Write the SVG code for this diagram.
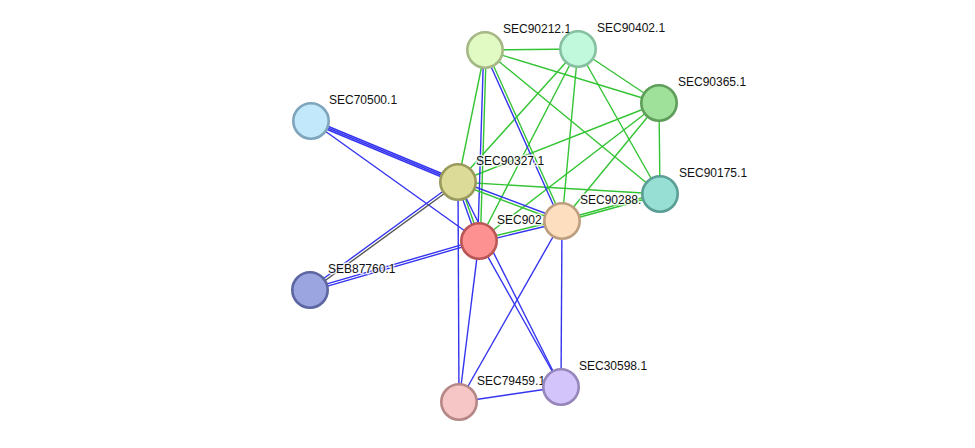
<svg xmlns="http://www.w3.org/2000/svg" width="975" height="448" viewBox="0 0 975 448">
<style>
.g{stroke:#33c433;stroke-width:1.4;fill:none}
.b{stroke:#3434f0;stroke-width:1.4;fill:none}
.k{stroke:#555555;stroke-width:1.4;fill:none}
.n{stroke-width:2.6}
.t{font-family:"Liberation Sans",Arial,sans-serif;font-size:12px;fill:#111;stroke:#ffffff;stroke-width:3;stroke-opacity:0.75;paint-order:stroke;stroke-linejoin:round}
</style>
<rect width="975" height="448" fill="#ffffff"/>
<g id="connectors">
<line class="g" x1="485" y1="50" x2="578" y2="49"/>
<line class="g" x1="485" y1="50" x2="659" y2="103"/>
<line class="g" x1="485" y1="50" x2="660" y2="194"/>
<line class="g" x1="485" y1="50" x2="458" y2="182"/>
<line class="g" x1="578" y1="49" x2="659" y2="103"/>
<line class="g" x1="578" y1="49" x2="660" y2="194"/>
<line class="g" x1="578" y1="49" x2="562" y2="221"/>
<line class="g" x1="578" y1="49" x2="458" y2="182"/>
<line class="g" x1="578" y1="49" x2="479" y2="241"/>
<line class="g" x1="659" y1="103" x2="660" y2="194"/>
<line class="g" x1="659" y1="103" x2="458" y2="182"/>
<line class="g" x1="659" y1="103" x2="479" y2="241"/>
<line class="g" x1="659" y1="103" x2="562" y2="221"/>
<line class="g" x1="458" y1="182" x2="660" y2="194"/>
<line class="g" x1="562.27" y1="221.97" x2="660.27" y2="194.97"/>
<line class="g" x1="561.73" y1="220.03" x2="659.73" y2="193.03"/>
<line class="b" x1="483.7" y1="50" x2="477.7" y2="241"/>
<line class="g" x1="486.3" y1="50" x2="480.3" y2="241"/>
<line class="b" x1="483.81" y1="50.53" x2="560.81" y2="221.53"/>
<line class="g" x1="486.19" y1="49.47" x2="563.19" y2="220.47"/>
<line class="b" x1="456.78" y1="182.44" x2="477.78" y2="241.44"/>
<line class="g" x1="459.22" y1="181.56" x2="480.22" y2="240.56"/>
<line class="b" x1="458.46" y1="180.78" x2="562.46" y2="219.78"/>
<line class="g" x1="457.54" y1="183.22" x2="561.54" y2="222.22"/>
<line class="g" x1="478.7" y1="239.74" x2="561.7" y2="219.74"/>
<line class="b" x1="479.3" y1="242.26" x2="562.3" y2="222.26"/>
<line class="b" x1="311" y1="121" x2="458" y2="182"/>
<line class="b" x1="311.61" y1="119.52" x2="458.61" y2="180.52"/>
<line class="b" x1="310.39" y1="122.48" x2="457.39" y2="183.48"/>
<line class="b" x1="311" y1="121" x2="479" y2="241"/>
<line class="k" x1="458.77" y1="183.05" x2="310.77" y2="291.05"/>
<line class="b" x1="457.23" y1="180.95" x2="309.23" y2="288.95"/>
<line class="b" x1="479.33" y1="242.15" x2="310.33" y2="291.15"/>
<line class="b" x1="478.67" y1="239.85" x2="309.67" y2="288.85"/>
<line class="b" x1="458" y1="182" x2="459" y2="402"/>
<line class="b" x1="458" y1="182" x2="561" y2="387"/>
<line class="b" x1="479" y1="241" x2="459" y2="402"/>
<line class="b" x1="479" y1="241" x2="561" y2="387"/>
<line class="b" x1="562" y1="221" x2="459" y2="402"/>
<line class="b" x1="562" y1="221" x2="561" y2="387"/>
<line class="b" x1="459" y1="402" x2="561" y2="387"/>
</g>
<g id="SEC90212.1"><circle class="n" cx="485" cy="50" r="17.7" fill="#e1fac3" stroke="#a5b886"/><text class="t" x="503" y="33">SEC90212.1</text></g>
<g id="SEC90402.1"><circle class="n" cx="578" cy="49" r="17.7" fill="#c0f9dc" stroke="#86c0a1"/><text class="t" x="597" y="32">SEC90402.1</text></g>
<g id="SEC90365.1"><circle class="n" cx="659" cy="103" r="17.7" fill="#9fe09a" stroke="#5f9e5a"/><text class="t" x="678" y="86">SEC90365.1</text></g>
<g id="SEC70500.1"><circle class="n" cx="311" cy="121" r="17.7" fill="#c2e8fb" stroke="#7fa5bd"/><text class="t" x="329" y="104">SEC70500.1</text></g>
<g id="SEC90327.1"><circle class="n" cx="458" cy="182" r="17.7" fill="#dcdb98" stroke="#9b9a5e"/><text class="t" x="476" y="165">SEC90327.1</text></g>
<g id="SEC902"><circle class="n" cx="479" cy="241" r="17.7" fill="#fd9191" stroke="#bb5656"/><text class="t" x="497" y="224">SEC902</text></g>
<g id="SEC90288.1"><circle class="n" cx="562" cy="221" r="17.7" fill="#fddfc0" stroke="#bd9f80"/><text class="t" x="580" y="204">SEC90288.</text></g>
<g id="SEC90175.1"><circle class="n" cx="660" cy="194" r="17.7" fill="#97dfd5" stroke="#5a9e96"/><text class="t" x="679" y="177">SEC90175.1</text></g>
<g id="SEB87760.1"><circle class="n" cx="310" cy="290" r="17.7" fill="#9ba6e1" stroke="#5c66a1"/><text class="t" x="328" y="273">SEB87760.1</text></g>
<g id="SEC79459.1"><circle class="n" cx="459" cy="402" r="17.7" fill="#f6c6c6" stroke="#b68787"/><text class="t" x="477" y="385">SEC79459.1</text></g>
<g id="SEC30598.1"><circle class="n" cx="561" cy="387" r="17.7" fill="#d3c5fb" stroke="#9686bb"/><text class="t" x="579" y="370">SEC30598.1</text></g>
</svg>
